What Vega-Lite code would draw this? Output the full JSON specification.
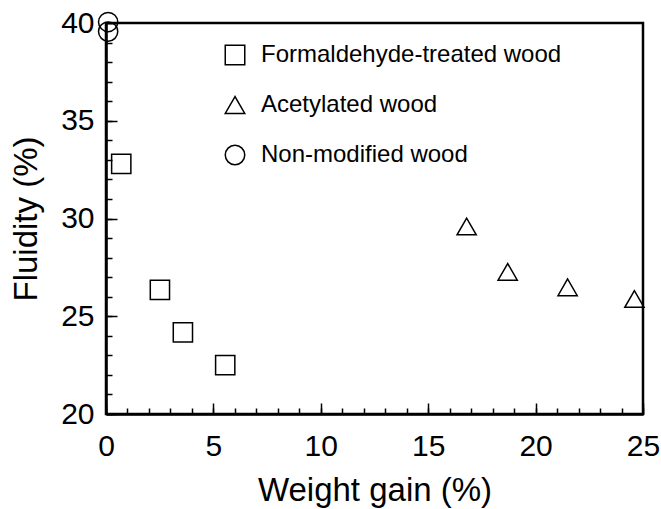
{
  "$schema": "https://vega.github.io/schema/vega-lite/v6.json",
  "width": 537,
  "height": 391,
  "autosize": {"type": "none"},
  "padding": {"left": 106, "top": 23, "right": 18, "bottom": 95},
  "background": "white",
  "config": {
    "view": {"stroke": "black", "strokeWidth": 2.5},
    "font": "Liberation Sans",
    "axis": {
      "domainColor": "black",
      "domainWidth": 2.5,
      "tickColor": "black",
      "tickWidth": 1.5,
      "grid": false,
      "labelColor": "black",
      "titleColor": "black",
      "labelFontSize": 30,
      "titleFontSize": 33,
      "titleFontWeight": "normal",
      "labelFont": "Liberation Sans",
      "titleFont": "Liberation Sans",
      "labelOverlap": false,
      "labelFlush": false
    }
  },
  "data": {
    "values": [
      {"series": "Formaldehyde-treated wood", "wg": 0.71, "fluidity": 32.8},
      {"series": "Formaldehyde-treated wood", "wg": 2.51, "fluidity": 26.35},
      {"series": "Formaldehyde-treated wood", "wg": 3.58, "fluidity": 24.18},
      {"series": "Formaldehyde-treated wood", "wg": 5.55, "fluidity": 22.5},
      {"series": "Acetylated wood", "wg": 16.79, "fluidity": 29.59},
      {"series": "Acetylated wood", "wg": 18.7, "fluidity": 27.27},
      {"series": "Acetylated wood", "wg": 21.49, "fluidity": 26.48},
      {"series": "Acetylated wood", "wg": 24.6, "fluidity": 25.88},
      {"series": "Non-modified wood", "wg": 0.1, "fluidity": 40.05},
      {"series": "Non-modified wood", "wg": 0.1, "fluidity": 39.56}
    ]
  },
  "resolve": {"axis": {"x": "independent", "y": "independent"}},
  "layer": [
    {
      "mark": {"type": "point", "opacity": 0},
      "encoding": {
        "x": {
          "field": "wg",
          "type": "quantitative",
          "scale": {"domain": [0, 25], "nice": false, "zero": false},
          "axis": {
            "orient": "bottom",
            "title": null,
            "values": [0,1,2,3,4,5,6,7,8,9,10,11,12,13,14,15,16,17,18,19,20,21,22,23,24,25],
            "labels": false,
            "domain": false,
            "tickSize": -6
          }
        },
        "y": {
          "field": "fluidity",
          "type": "quantitative",
          "scale": {"domain": [20, 40], "nice": false, "zero": false},
          "axis": {
            "orient": "left",
            "title": null,
            "values": [20,21,22,23,24,25,26,27,28,29,30,31,32,33,34,35,36,37,38,39,40],
            "labels": false,
            "domain": false,
            "tickSize": -6
          }
        }
      }
    },
    {
      "mark": {"type": "point", "opacity": 0},
      "encoding": {
        "x": {
          "field": "wg",
          "type": "quantitative",
          "scale": {"domain": [0, 25], "nice": false, "zero": false},
          "axis": {
            "orient": "bottom",
            "title": null,
            "values": [0, 5, 10, 15, 20, 25],
            "labels": false,
            "domain": false,
            "tickSize": -11
          }
        },
        "y": {
          "field": "fluidity",
          "type": "quantitative",
          "scale": {"domain": [20, 40], "nice": false, "zero": false},
          "axis": {
            "orient": "left",
            "title": null,
            "values": [20, 25, 30, 35, 40],
            "labels": false,
            "domain": false,
            "tickSize": -11
          }
        }
      }
    },
    {
      "mark": {"type": "point", "filled": false, "stroke": "black", "strokeWidth": 1.5, "opacity": 1, "size": 370},
      "encoding": {
        "x": {
          "field": "wg",
          "type": "quantitative",
          "scale": {"domain": [0, 25], "nice": false, "zero": false},
          "axis": {
            "orient": "bottom",
            "title": "Weight gain (%)",
            "values": [0, 5, 10, 15, 20, 25],
            "ticks": false,
            "labelPadding": 17,
            "titlePadding": 13
          }
        },
        "y": {
          "field": "fluidity",
          "type": "quantitative",
          "scale": {"domain": [20, 40], "nice": false, "zero": false},
          "axis": {
            "orient": "left",
            "title": "Fluidity (%)",
            "values": [20, 25, 30, 35, 40],
            "ticks": false,
            "labelPadding": 12,
            "titlePadding": 17
          }
        },
        "shape": {
          "field": "series",
          "type": "nominal",
          "scale": {
            "domain": ["Formaldehyde-treated wood", "Acetylated wood", "Non-modified wood"],
            "range": ["square", "triangle-up", "circle"]
          },
          "legend": {
            "title": null,
            "orient": "none",
            "legendX": 117,
            "legendY": 20,
            "symbolSize": 380,
            "symbolStrokeColor": "black",
            "symbolFillColor": "transparent",
            "symbolStrokeWidth": 1.5,
            "labelFontSize": 24,
            "labelFont": "Liberation Sans",
            "labelColor": "black",
            "labelOffset": 14,
            "labelLimit": 500,
            "rowPadding": 25
          }
        }
      }
    }
  ]
}
